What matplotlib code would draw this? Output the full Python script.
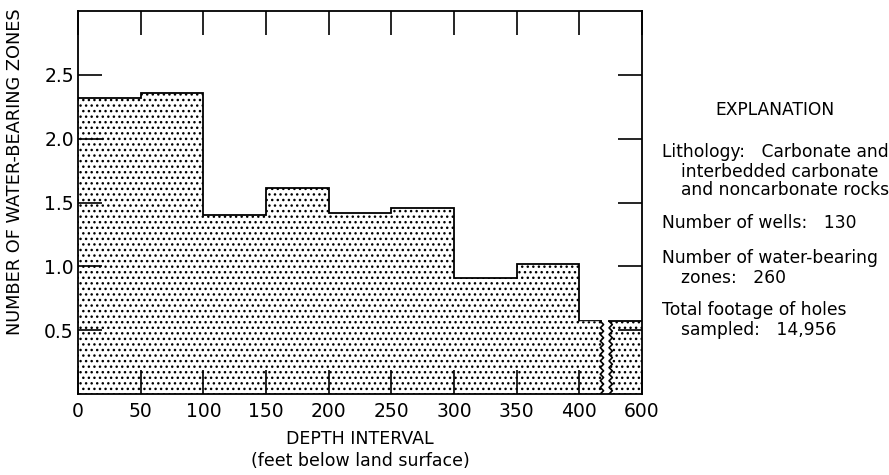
import numpy as np
import matplotlib
matplotlib.use("Agg")
import matplotlib.pyplot as plt

# Data: average number of water-bearing zones per depth interval
depth_edges = [0, 50, 100, 150, 200, 250, 300, 350, 400]
zones_per_interval = [2.32, 2.36, 1.40, 1.61, 1.42, 1.46, 0.91, 1.02]
last_interval_value = 0.57   # 400-600 ft, drawn on a broken axis
tick_labels = ["0", "50", "100", "150", "200", "250", "300", "350", "400", "600"]

plt.rcParams["hatch.linewidth"] = 1.0
plt.rcParams["hatch.color"] = "black"

fig = plt.figure(figsize=(8.89, 4.75), dpi=100)
ax = fig.add_axes([0.0877, 0.1705, 0.6345, 0.8063])

# Axis break: the 400-600 bin is squeezed into the space after 400
break_left = 418
break_right = 425
x_end = 450

# Main bins
ax.bar(depth_edges[:-1], zones_per_interval, width=50, align="edge",
       facecolor="white", edgecolor="black", linewidth=0, hatch="...")
ax.stairs(zones_per_interval + [last_interval_value],
          depth_edges + [break_left], baseline=None,
          color="black", linewidth=1.3)

# Last bin with wavy break edges
n_waves = 22
wy = np.linspace(0, last_interval_value, n_waves + 1)
wave = 1.3 * np.where(np.arange(n_waves + 1) % 2 == 0, -1, 1)

xs_left = np.concatenate([[400, break_left], (break_left + wave)[::-1], [400]])
ys_left = np.concatenate([[last_interval_value, last_interval_value], wy[::-1], [0]])
ax.fill(xs_left, ys_left, facecolor="white", edgecolor="black", linewidth=0, hatch="...")
ax.plot(break_left + wave, wy, color="black", linewidth=1.2)

xs_right = np.concatenate([break_right + wave, [x_end, x_end]])
ys_right = np.concatenate([wy, [last_interval_value, 0]])
ax.fill(xs_right, ys_right, facecolor="white", edgecolor="black", linewidth=0, hatch="...")
ax.plot(break_right + wave, wy, color="black", linewidth=1.2)
ax.plot([break_right + wave[-1], x_end], [last_interval_value, last_interval_value],
        color="black", linewidth=1.3)

ax.set_xlim(0, x_end)
ax.set_ylim(0, 3.0)

tick_pos = depth_edges + [x_end]
ax.set_xticks(tick_pos)
ax.set_xticklabels(tick_labels)
ax.set_yticks([0.5, 1.0, 1.5, 2.0, 2.5])
ax.set_yticklabels(["0.5", "1.0", "1.5", "2.0", "2.5"])
ax.tick_params(axis="both", direction="in", length=17, width=1.2,
               top=True, right=True, labelsize=13.5)
ax.tick_params(axis="x", pad=6)
ax.tick_params(axis="y", pad=3)
for s in ax.spines.values():
    s.set_linewidth(1.3)

ax.set_ylabel("NUMBER OF WATER-BEARING ZONES", fontsize=12.8)
ax.yaxis.set_label_coords(-0.095, 0.58)
ax.set_xlabel("DEPTH INTERVAL\n(feet below land surface)", fontsize=12.5,
              linespacing=1.3, labelpad=6)

# Explanation block
fs = 12.3
fig.text(775 / 889, 1 - 110 / 475, "EXPLANATION", ha="center", va="center", fontsize=fs)
lines = [
    (662, 152, "Lithology:   Carbonate and"),
    (681, 172, "interbedded carbonate"),
    (681, 190, "and noncarbonate rocks"),
    (662, 223, "Number of wells:   130"),
    (662, 258, "Number of water-bearing"),
    (681, 278, "zones:   260"),
    (662, 310, "Total footage of holes"),
    (681, 330, "sampled:   14,956"),
]
for x, y, t in lines:
    fig.text(x / 889, 1 - y / 475, t, ha="left", va="center", fontsize=fs)

plt.savefig("out.png", dpi=100)
